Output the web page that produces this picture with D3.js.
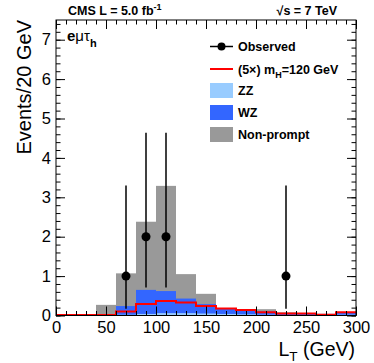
<!DOCTYPE html>
<html>
<head>
<meta charset="utf-8">
<script src="https://d3js.org/d3.v7.min.js"></script>
<style>
body { margin: 0; background: #fff; }
text { font-family: "Liberation Sans", Arial, sans-serif; }
</style>
</head>
<body>
<svg width="374" height="363"></svg>
<script>
// Data (events per 20 GeV bin)
var binLow    = [0, 20, 40, 60, 80, 100, 120, 140, 160, 180, 200, 220, 240, 260, 280];
var zz        = [0, 0, 0, 0.02, 0.04, 0.06, 0.06, 0.05, 0.04, 0.03, 0.02, 0.01, 0.01, 0.01, 0.02];
var wz        = [0, 0, 0, 0.22, 0.61, 0.56, 0.37, 0.24, 0.14, 0.11, 0.08, 0.05, 0.04, 0.03, 0.05];
var nonprompt = [0, 0, 0.27, 0.83, 1.73, 2.67, 0.62, 0.26, 0, 0, 0.06, 0.02, 0, 0, 0];
var signal    = [0.01, 0.01, 0.01, 0.10, 0.29, 0.37, 0.33, 0.24, 0.18, 0.14, 0.08, 0.05, 0.05, 0.02, 0.08];

var obsX    = [70, 90, 110, 230];
var obsY    = [1, 2, 2, 1];
var obsLow  = [0.17, 0.71, 0.71, 0.17];
var obsHigh = [3.30, 4.64, 4.64, 3.30];

var xTicks = [0, 50, 100, 150, 200, 250, 300];
var yTicks = [0, 1, 2, 3, 4, 5, 6, 7];

var binWidth = 20;

// Layout
var svg = d3.select("svg");
var margin = {top: 20, right: 18, bottom: 47.5, left: 56};
var width = 374 - margin.left - margin.right;
var height = 363 - margin.top - margin.bottom;

var x = d3.scaleLinear().domain([0, 300]).range([0, width]);
var y = d3.scaleLinear().domain([0, 7.5]).range([height, 0]);

var g = svg.append("g")
    .attr("transform", "translate(" + margin.left + "," + margin.top + ")");

// stacked backgrounds
var table = binLow.map(function(lo, i) {
  return {lo: lo, zz: zz[i], wz: wz[i], nonprompt: nonprompt[i]};
});
var stack = d3.stack().keys(["zz", "wz", "nonprompt"])(table);
var colors = {zz: "#99ccff", wz: "#3366ff", nonprompt: "#999999"};

// draw from top layer down so each fill covers from zero
stack.slice().reverse().forEach(function(layer) {
  g.selectAll(".bar-" + layer.key)
    .data(layer)
    .enter().append("rect")
    .attr("x", function(d) { return x(d.data.lo); })
    .attr("width", function(d) { return x(d.data.lo + binWidth) - x(d.data.lo); })
    .attr("y", function(d) { return y(d[1]); })
    .attr("height", function(d) { return y(0) - y(d[1]); })
    .attr("fill", colors[layer.key]);
});

// signal step line
var sigPts = binLow.map(function(lo, i) { return [lo, signal[i]]; });
sigPts.push([binLow[binLow.length - 1] + binWidth, signal[signal.length - 1]]);
g.append("path")
  .datum(sigPts)
  .attr("fill", "none")
  .attr("stroke", "#ff0000")
  .attr("stroke-width", 2)
  .attr("d", d3.line().curve(d3.curveStepAfter)
    .x(function(d) { return x(d[0]); })
    .y(function(d) { return y(d[1]); }));

// axes (ROOT style: ticks inside, on all four sides)
function minorTicks(step, max) {
  var t = [];
  for (var v = 0; v <= max + 1e-9; v += step) t.push(+v.toFixed(2));
  return t;
}
var xMinor = minorTicks(10, 300);
var yMinor = minorTicks(0.2, 7.5);

function styleAxis(sel) {
  sel.select(".domain").remove();
  sel.selectAll("line").attr("stroke", "#000");
  sel.selectAll("text").attr("font-size", 16.5).attr("fill", "#000")
    .style("font-family", "'Liberation Sans', Arial, sans-serif");
}

g.append("g").attr("transform", "translate(0," + height + ")")
  .call(d3.axisBottom(x).tickValues(xTicks).tickSize(-9).tickPadding(6).tickFormat(d3.format("d")))
  .call(styleAxis);
g.append("g").attr("transform", "translate(0," + height + ")")
  .call(d3.axisBottom(x).tickValues(xMinor).tickSize(-4.5).tickFormat(""))
  .call(styleAxis);
g.append("g")
  .call(d3.axisTop(x).tickValues(xTicks).tickSize(-9).tickFormat(""))
  .call(styleAxis);
g.append("g")
  .call(d3.axisTop(x).tickValues(xMinor).tickSize(-4.5).tickFormat(""))
  .call(styleAxis);

g.append("g")
  .call(d3.axisLeft(y).tickValues(yTicks).tickSize(-9).tickPadding(5).tickFormat(d3.format("d")))
  .call(styleAxis);
g.append("g")
  .call(d3.axisLeft(y).tickValues(yMinor).tickSize(-4.5).tickFormat(""))
  .call(styleAxis);
g.append("g").attr("transform", "translate(" + width + ",0)")
  .call(d3.axisRight(y).tickValues(yTicks).tickSize(-9).tickFormat(""))
  .call(styleAxis);
g.append("g").attr("transform", "translate(" + width + ",0)")
  .call(d3.axisRight(y).tickValues(yMinor).tickSize(-4.5).tickFormat(""))
  .call(styleAxis);

// observed data
var obs = obsX.map(function(v, i) {
  return {x: v, y: obsY[i], lo: obsLow[i], hi: obsHigh[i]};
});
g.selectAll(".err")
  .data(obs)
  .enter().append("line")
  .attr("x1", function(d) { return x(d.x); })
  .attr("x2", function(d) { return x(d.x); })
  .attr("y1", function(d) { return y(d.lo); })
  .attr("y2", function(d) { return y(d.hi); })
  .attr("stroke", "#000")
  .attr("stroke-width", 1.5);
g.selectAll(".dot")
  .data(obs)
  .enter().append("circle")
  .attr("cx", function(d) { return x(d.x); })
  .attr("cy", function(d) { return y(d.y); })
  .attr("r", 4.5)
  .attr("fill", "#000");

// frame
g.append("rect")
  .attr("width", width).attr("height", height)
  .attr("fill", "none").attr("stroke", "#000").attr("stroke-width", 1);

// titles
var titleText = svg.append("text").attr("x", 68).attr("y", 15)
  .attr("font-size", 12.5).attr("font-weight", "bold");
titleText.append("tspan").text("CMS L = 5.0 fb");
titleText.append("tspan").attr("dy", -5).attr("font-size", 9).text("-1");

svg.append("text").attr("x", 337).attr("y", 15)
  .attr("text-anchor", "end").attr("font-size", 12.5).attr("font-weight", "bold")
  .text("\u221As = 7 TeV");

var chan = svg.append("text").attr("x", 67).attr("y", 41)
  .attr("font-size", 15).attr("font-weight", "bold");
chan.append("tspan").text("e");
chan.append("tspan").attr("font-weight", "normal").text("\u03BC\u03C4");
chan.append("tspan").attr("dy", 6).attr("font-size", 11).text("h");

svg.append("text")
  .attr("transform", "translate(31,20) rotate(-90)")
  .attr("text-anchor", "end").attr("font-size", 20)
  .text("Events/20 GeV");

var xt = svg.append("text").attr("x", 355).attr("y", 356)
  .attr("text-anchor", "end").attr("font-size", 19.5);
xt.append("tspan").text("L");
xt.append("tspan").attr("dy", 5).attr("font-size", 13.5).text("T");
xt.append("tspan").attr("dy", -5).text(" (GeV)");

// legend
var leg = svg.append("g").attr("font-size", 12.5).attr("font-weight", "bold");
leg.append("line").attr("x1", 210).attr("x2", 233).attr("y1", 46.5).attr("y2", 46.5)
  .attr("stroke", "#000").attr("stroke-width", 1.5);
leg.append("circle").attr("cx", 221.5).attr("cy", 46.5).attr("r", 4).attr("fill", "#000");
leg.append("text").attr("x", 238).attr("y", 51).text("Observed");

leg.append("line").attr("x1", 210).attr("x2", 233).attr("y1", 69).attr("y2", 69)
  .attr("stroke", "#ff0000").attr("stroke-width", 2);
var sl = leg.append("text").attr("x", 238).attr("y", 73.5);
sl.append("tspan").text("(5\u00D7) m");
sl.append("tspan").attr("dy", 4).attr("font-size", 9).text("H");
sl.append("tspan").attr("dy", -4).text("=120 GeV");

var boxes = [["zz", "ZZ", 83], ["wz", "WZ", 105], ["nonprompt", "Non-prompt", 127]];
boxes.forEach(function(b) {
  leg.append("rect").attr("x", 210).attr("y", b[2]).attr("width", 23).attr("height", 15)
    .attr("fill", colors[b[0]]);
  leg.append("text").attr("x", 238).attr("y", b[2] + 12).text(b[1]);
});
</script>
</body>
</html>
